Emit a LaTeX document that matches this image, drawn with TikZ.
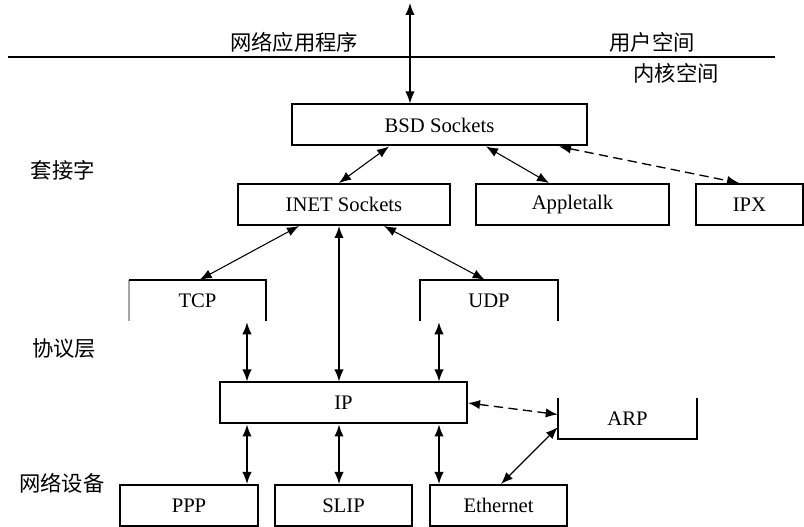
\documentclass[tikz,border=0pt]{standalone}
\usepackage{fontspec}
\setmainfont{Liberation Serif}
\newfontfamily\cjk{Noto Sans CJK SC}
\usetikzlibrary{arrows.meta,calc}
\begin{document}
\begin{tikzpicture}[x=0.75pt,y=-0.75pt,
  >={Latex[length=9pt,width=7pt]},
  lbl/.style={inner sep=0pt,font=\fontsize{15.5}{18}\selectfont},
  box/.style={lbl,draw,line width=1.5pt,minimum height=41*0.75pt},
  openbox/.style={lbl,minimum height=41*0.75pt},
  boxw/.style={minimum width=#1*0.75pt},
  layer/.style={inner sep=0pt,font=\cjk\fontsize{16}{18}\selectfont},
  edge/.style={line width=1.5pt},
  link/.style={<->,line width=1pt},
  slant/.style={<->,line width=0.8pt},
  dlink/.style={<->,line width=1pt,dash pattern=on 7pt off 4pt},
]
\useasboundingbox (0,0) rectangle (804,527);

% user / kernel space separator
\coordinate (sepL) at (8,57);
\coordinate (sepR) at (775,57);
\draw[edge] (sepL) -- (sepR);

% text labels
\node[layer] (app)    at (294,42)  {网络应用程序};
\node[layer] (user)   at (652,42)  {用户空间};
\node[layer] (kernel) at (676,73)  {内核空间};
\node[layer] (sock)   at (63,170)  {套接字};
\node[layer] (proto)  at (64,348)  {协议层};
\node[layer] (dev)    at (62,483)  {网络设备};

% socket layer
\node[box,boxw=295] (bsd)   at (439.5,125)   {BSD Sockets};
\node[box,boxw=212] (inet)  at (344,204.5)   {INET Sockets};
\node[box,boxw=193] (apple) at (572.5,204.5) {Appletalk};
\node[box,boxw=107] (ipx)   at (749.5,204.5) {IPX};

% protocol layer
\node[openbox,boxw=137] (tcp) at (197.5,300.5) {TCP};
\draw[edge,black!35] (tcp.south west) -- (tcp.north west);
\draw[edge] (tcp.north west) -- (tcp.north east) -- (tcp.south east);
\node[openbox,boxw=138] (udp) at (489,300.5) {UDP};
\draw[edge] (udp.south west) -- (udp.north west) -- (udp.north east) -- (udp.south east);
\node[box,boxw=247] (ip) at (343.5,403) {IP};
\node[openbox,boxw=139] (arp) at (627.5,418.5) {ARP};
\draw[edge] (arp.north west) -- (arp.south west) -- (arp.south east) -- (arp.north east);

% devices
\node[box,boxw=138] (ppp)  at (189,505.5)   {PPP};
\node[box,boxw=137] (slip) at (343.5,505.5) {SLIP};
\node[box,boxw=137] (eth)  at (498.5,505.5) {Ethernet};

% columns of the vertical links
\coordinate (apptop) at (410,3);
\coordinate (c247) at (247,0);
\coordinate (c339) at (339,0);
\coordinate (c439) at (439,0);

% application <-> BSD sockets
\draw[link] (apptop) -- (apptop |- bsd.north);

% BSD sockets <-> families
\draw[slant] ($(bsd.south west)+(98,0)$) -- ($(inet.north west)+(102,0)$);
\draw[slant] ($(bsd.south west)+(195,0)$) -- ($(apple.north west)+(74,0)$);
\draw[dlink] ($(bsd.south west)+(268,0)$) -- ($(ipx.north west)+(44,0)$);

% INET sockets <-> transport / IP
\draw[slant] ($(inet.south west)+(62,0)$) -- ($(tcp.north west)+(71,0)$);
\draw[slant] ($(inet.south west)+(147,0)$) -- ($(udp.north west)+(65,0)$);
\draw[link] (inet.south -| c339) -- (ip.north -| c339);

% transport <-> IP
\draw[link] ($(tcp.south -| c247)+(0,1)$) -- (ip.north -| c247);
\draw[link] ($(udp.south -| c439)+(0,1)$) -- (ip.north -| c439);

% IP <-> ARP
\draw[dlink] (ip.east) -- ($(arp.west)+(0,-4)$);

% IP <-> devices
\draw[link] (ip.south -| c247) -- (ppp.north -| c247);
\draw[link] (ip.south -| c339) -- (slip.north -| c339);
\draw[link] (ip.south -| c439) -- (eth.north -| c439);

% ARP <-> Ethernet
\draw[slant] ($(arp.south west)+(0,-12)$) -- ($(eth.north west)+(72,0)$);
\end{tikzpicture}
\end{document}
